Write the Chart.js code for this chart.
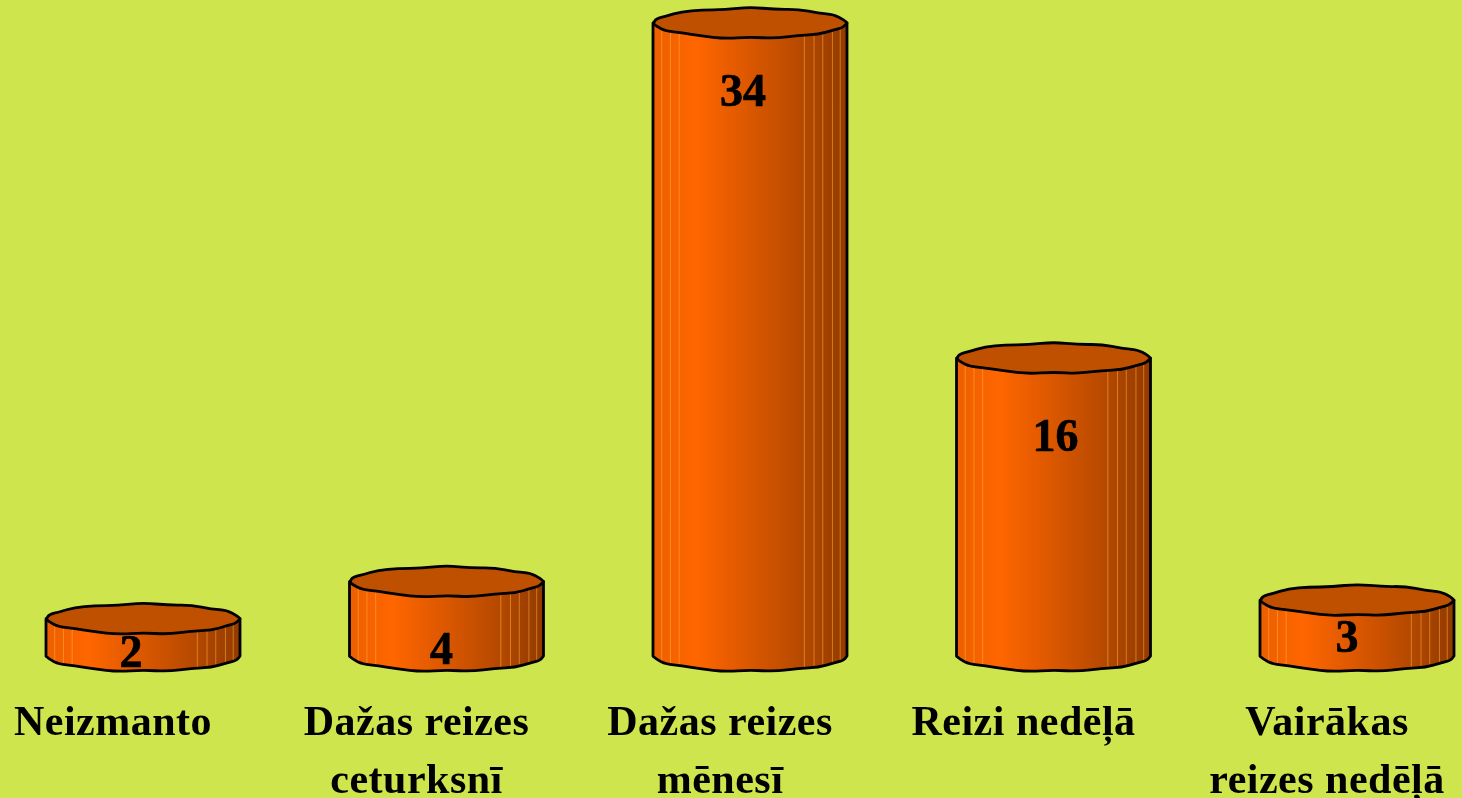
<!DOCTYPE html>
<html><head><meta charset="utf-8">
<style>html,body{margin:0;padding:0;background:#CFE54D;overflow:hidden}canvas{display:block}</style>
<script src="https://cdn.jsdelivr.net/npm/chart.js@4"></script></head>
<body><canvas id="c" width="1462" height="798"></canvas>
<script>
const categories = [["Neizmanto"],["Dažas reizes","ceturksnī"],["Dažas reizes","mēnesī"],["Reizi nedēļā"],["Vairākas","reizes nedēļā"]];
const values = [2,4,34,16,3];
// style-only nudges of the value labels relative to each cylinder
const labelDx = [-12,-5,-7,2,-10];
const labelDy = [36,71,71,81,40];
// style-only hand-drawn wobble of the cylinder rim, one value per rim step
const rimWobble = [0,1.2,-1,1.2,-0.8,1,-1,1.2,0,-1.2,1,-1,0.8,-1,1.2,-1,0,1.2,-1,1,-0.8,1,-1.2,1];
const stripes = [0.045,0.09,0.135,0.78,0.83,0.875,0.925,0.965];
const RY = 15;

function rimPoints(x,y,rx,from,to,step){
  const n=rimWobble.length, pts=[];
  for(let i=from; step>0? i<=to : i>=to; i+=step){
    const a=i/n*Math.PI*2;
    pts.push([x+Math.cos(a)*rx, y+Math.sin(a)*RY+rimWobble[((i%n)+n)%n]*(0.4+0.6*Math.abs(Math.sin(a)))]);
  }
  return pts;
}
function smooth(p,pts){ // pts[0] is assumed to be the current point
  for(let i=1;i<pts.length-1;i++){
    p.quadraticCurveTo(pts[i][0],pts[i][1],(pts[i][0]+pts[i+1][0])/2,(pts[i][1]+pts[i+1][1])/2);
  }
  const l=pts[pts.length-1]; p.lineTo(l[0],l[1]);
}
const cylinders = {
  id:'cylinders',
  beforeDraw(chart){
    const ctx=chart.ctx;ctx.save();ctx.fillStyle='#CFE54D';ctx.fillRect(0,0,chart.width,chart.height);ctx.restore();
    ctx.letterSpacing='0.5px';
  },
  afterDatasetsDraw(chart){
    const ctx=chart.ctx, n=rimWobble.length;
    ctx.letterSpacing='0px';
    chart.getDatasetMeta(0).data.forEach((el,i)=>{
      const x=el.x, y=el.y, b=el.base, rx=el.width/2;
      ctx.save();
      ctx.lineJoin='round';ctx.lineWidth=2.8;ctx.strokeStyle='#000';
      // body
      const body=new Path2D();
      const bottom=rimPoints(x,b,rx,n/2,0,-1);
      body.moveTo(x-rx,y);
      body.lineTo(bottom[0][0],bottom[0][1]);
      smooth(body,bottom);
      body.lineTo(x+rx,y);
      body.closePath();
      const g=ctx.createLinearGradient(x-rx,0,x+rx,0);
      g.addColorStop(0,'#EC5F00');g.addColorStop(0.22,'#FF6600');g.addColorStop(0.5,'#DA5700');
      g.addColorStop(0.75,'#B84A00');g.addColorStop(1,'#923A00');
      ctx.fillStyle=g;ctx.fill(body);
      ctx.save();ctx.clip(body);
      ctx.lineWidth=1;ctx.strokeStyle='rgba(255,175,50,0.55)';
      stripes.forEach(f=>{const sx=x-rx+f*2*rx;ctx.beginPath();ctx.moveTo(sx,y);ctx.lineTo(sx,b+RY+2);ctx.stroke();});
      ctx.restore();
      ctx.stroke(body);
      // top
      const top=new Path2D();
      const rp=rimPoints(x,y,rx,0,n,1);
      top.moveTo(rp[0][0],rp[0][1]);
      smooth(top,rp);
      top.closePath();
      ctx.fillStyle='#BF5000';ctx.fill(top);ctx.stroke(top);
      // value
      ctx.fillStyle='#000';ctx.font='bold 46px "Liberation Serif"';
      ctx.textAlign='center';ctx.textBaseline='middle';
      ctx.lineWidth=0.7;
      ctx.fillText(String(values[i]),x+labelDx[i],y+labelDy[i]);
      ctx.strokeText(String(values[i]),x+labelDx[i],y+labelDy[i]);
      ctx.restore();
    });
  }
};
new Chart(document.getElementById('c'),{
  type:'bar',
  data:{labels:categories,datasets:[{data:values,backgroundColor:'#E25A00',borderWidth:0,barThickness:194}]},
  plugins:[cylinders],
  options:{
    responsive:false,animation:false,
    layout:{padding:{top:23,left:143,right:105,bottom:0}},
    plugins:{legend:{display:false},tooltip:{enabled:false},title:{display:false}},
    scales:{
      y:{display:false,min:0,max:34},
      x:{offset:false,
        grid:{display:false,drawBorder:false},border:{display:false},
        afterFit(s){s.height=142;s.paddingLeft=0;s.paddingRight=0;},
        ticks:{autoSkip:false,maxRotation:0,minRotation:0,padding:31,labelOffset:-30,color:'#000',
          font:{family:'"Liberation Serif"',weight:'bold',size:42,lineHeight:1.38}}}
    }
  }
});
</script></body></html>
